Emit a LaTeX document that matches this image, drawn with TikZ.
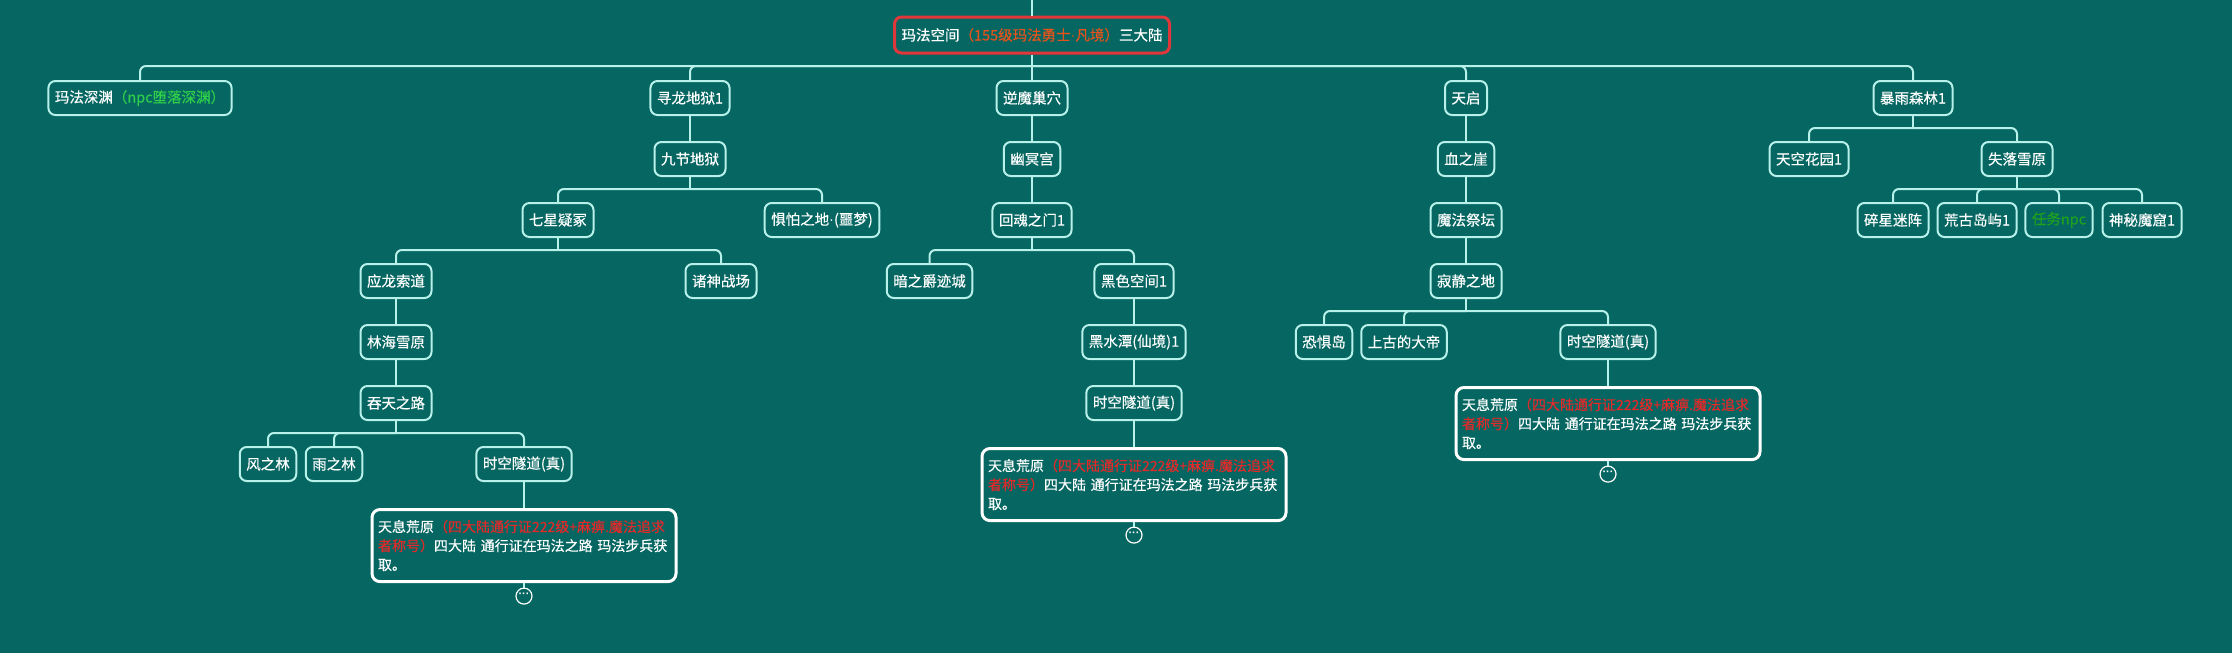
\documentclass[tikz,border=0pt]{standalone}
\usepackage{fontspec}
\setmainfont{Noto Sans CJK SC}[FakeBold=0.35]
\newfontfamily\narrowfont{Liberation Sans}
\usepackage{xcolor}
\usetikzlibrary{calc}

\definecolor{bgC}{HTML}{056662}
\definecolor{lineC}{HTML}{B8F0EA}
\definecolor{rootRed}{HTML}{E0383A}
\definecolor{rootOrange}{HTML}{E2541C}
\definecolor{npcGreen}{HTML}{2FCF4A}
\definecolor{taskGreen}{HTML}{1FA31F}
\definecolor{noteRed}{HTML}{E22A2A}

\newcommand{\pdot}{{\narrowfont ·}}
\newcommand{\tianxi}{\mbox{天息荒原\textcolor{noteRed}{（四大陆通行证222级+麻痹.魔法追求}}\\
\mbox{\textcolor{noteRed}{者称号）}四大陆 通行证在玛法之路 玛法步兵获}\\
取。}

\tikzset{
  box/.style={draw=lineC, line width=2pt, rounded corners=7pt, text=white,
    font=\fontsize{14.5}{17}\selectfont, minimum height=34pt, inner xsep=6.5pt, inner ysep=0pt},
  link/.style={draw=lineC, line width=2pt},
  bus/.style={link, rounded corners=6pt},
  note/.style={draw=white, line width=3pt, rounded corners=8pt, text=white, align=left,
    font=\fontsize{14}{19}\selectfont, text width=292pt, inner xsep=6pt, inner ysep=10.5pt, anchor=north},
  more/.style={circle, draw=white, line width=1.2pt, minimum size=16pt, inner sep=0pt,
    text=white, font=\narrowfont\bfseries\fontsize{11}{11}\selectfont}
}

\begin{document}
\begin{tikzpicture}[x=1pt,y=-1pt]
    \fill[bgC] (0,0) rectangle (2232,653);
    \useasboundingbox (0,0) rectangle (2232,653);

    % root
    \node[box, draw=rootRed, line width=3pt, minimum height=36pt, inner xsep=7pt] (root) at (1032,35)
        {玛法空间\textcolor{rootOrange}{（155级玛法勇士\pdot 凡境）}三大陆};
    \coordinate (top) at (1032,0);

    % first row
    \node[box] (mfsy) at (140,98) {玛法深渊\textcolor{npcGreen}{（npc堕落深渊）}};
    \node[box] (xldy) at (690,98) {寻龙地狱1};
    \node[box] (nmcx) at (1032,98) {逆魔巢穴};
    \node[box] (tq) at (1466,98) {天启};
    \node[box] (byls) at (1913,98) {暴雨森林1};

    % second row
    \node[box] (jjdy) at (690,159) {九节地狱};
    \node[box] (ymg) at (1032,159) {幽冥宫};
    \node[box] (xzy) at (1466,159) {血之崖};
    \node[box] (tkhy) at (1809,159) {天空花园1};
    \node[box] (slxy) at (2017,159) {失落雪原};

    % third row
    \node[box] (qxyz) at (558,220) {七星疑冢};
    \node[box] (jpzd) at (822,220) {惧怕之地\pdot(噩梦)};
    \node[box] (hhzm) at (1032,220) {回魂之门1};
    \node[box] (mfjt) at (1466,220) {魔法祭坛};
    \node[box] (sxmz) at (1893,220) {碎星迷阵};
    \node[box] (hgdy) at (1977,220) {荒古岛屿1};
    \node[box] (rwnpc) at (2059,220) {\textcolor{taskGreen}{任务npc}};
    \node[box] (smmk) at (2142,220) {神秘魔窟1};

    % fourth row
    \node[box] (ylsd) at (396,281) {应龙索道};
    \node[box] (zszc) at (721,281) {诸神战场};
    \node[box] (azjjc) at (929.5,281) {暗之爵迹城};
    \node[box] (hskj) at (1134,281) {黑色空间1};
    \node[box] (jjzd) at (1466,281) {寂静之地};

    % fifth row
    \node[box] (lhxy) at (396,342) {林海雪原};
    \node[box] (hst) at (1134,342) {黑水潭(仙境)1};
    \node[box] (kjd) at (1324,342) {恐惧岛};
    \node[box] (sgdd) at (1404,342) {上古的大帝};
    \node[box] (sksdR) at (1608,342) {时空隧道(真)};

    % sixth row
    \node[box] (ttzl) at (396,403) {吞天之路};
    \node[box] (sksdM) at (1134,403) {时空隧道(真)};
    \node[note] (noteR) at (1608,386) {\tianxi};

    % seventh row
    \node[box] (fzl) at (268,464) {风之林};
    \node[box] (yzl) at (334,464) {雨之林};
    \node[box] (sksdL) at (524,464) {时空隧道(真)};
    \node[note] (noteM) at (1134,447) {\tianxi};
    \node[note] (noteL) at (524,508) {\tianxi};

    % folded marks
    \node[more] (moreR) at ($(noteR.south)+(0,13)$) {\raisebox{2pt}{···}};
    \node[more] (moreM) at ($(noteM.south)+(0,13)$) {\raisebox{2pt}{···}};
    \node[more] (moreL) at ($(noteL.south)+(0,13)$) {\raisebox{2pt}{···}};

    % bus points
    \coordinate (bRoot) at (1032,66);
    \coordinate (bByls) at (1913,128);
    \coordinate (bJjdy) at (690,189);
    \coordinate (bSlxy) at (2017,189);
    \coordinate (bQxyz) at (558,250);
    \coordinate (bHhzm) at (1032,250);
    \coordinate (bJjzd) at (1466,311);
    \coordinate (bTtzl) at (396,433);

    % connectors
    \draw[link] (top) -- (root.north);
    \draw[link] (root.south) -- (bRoot);
    \draw[bus] (bRoot) -| (mfsy.north);
    \draw[bus] (bRoot) -| (xldy.north);
    \draw[link] (bRoot) -- (nmcx.north);
    \draw[bus] (bRoot) -| (tq.north);
    \draw[bus] (bRoot) -| (byls.north);

    \draw[link] (xldy) -- (jjdy);
    \draw[link] (nmcx) -- (ymg);
    \draw[link] (tq) -- (xzy);
    \draw[link] (byls.south) -- (bByls);
    \draw[bus] (bByls) -| (tkhy.north);
    \draw[bus] (bByls) -| (slxy.north);

    \draw[link] (jjdy.south) -- (bJjdy);
    \draw[bus] (bJjdy) -| (qxyz.north);
    \draw[bus] (bJjdy) -| (jpzd.north);
    \draw[link] (ymg) -- (hhzm);
    \draw[link] (xzy) -- (mfjt);
    \draw[link] (slxy.south) -- (bSlxy);
    \draw[bus] (bSlxy) -| (sxmz.north);
    \draw[bus] (bSlxy) -| (hgdy.north);
    \draw[bus] (bSlxy) -| (rwnpc.north);
    \draw[bus] (bSlxy) -| (smmk.north);

    \draw[link] (qxyz.south) -- (bQxyz);
    \draw[bus] (bQxyz) -| (ylsd.north);
    \draw[bus] (bQxyz) -| (zszc.north);
    \draw[link] (hhzm.south) -- (bHhzm);
    \draw[bus] (bHhzm) -| (azjjc.north);
    \draw[bus] (bHhzm) -| (hskj.north);
    \draw[link] (mfjt) -- (jjzd);

    \draw[link] (ylsd) -- (lhxy);
    \draw[link] (hskj) -- (hst);
    \draw[link] (jjzd.south) -- (bJjzd);
    \draw[bus] (bJjzd) -| (kjd.north);
    \draw[bus] (bJjzd) -| (sgdd.north);
    \draw[bus] (bJjzd) -| (sksdR.north);

    \draw[link] (lhxy) -- (ttzl);
    \draw[link] (hst) -- (sksdM);
    \draw[link] (sksdR) -- (noteR);

    \draw[link] (ttzl.south) -- (bTtzl);
    \draw[bus] (bTtzl) -| (fzl.north);
    \draw[bus] (bTtzl) -| (yzl.north);
    \draw[bus] (bTtzl) -| (sksdL.north);
    \draw[link] (sksdM) -- (noteM);
    \draw[link] (sksdL) -- (noteL);

    \draw[link] (noteR) -- (moreR);
    \draw[link] (noteM) -- (moreM);
    \draw[link] (noteL) -- (moreL);
\end{tikzpicture}
\end{document}
